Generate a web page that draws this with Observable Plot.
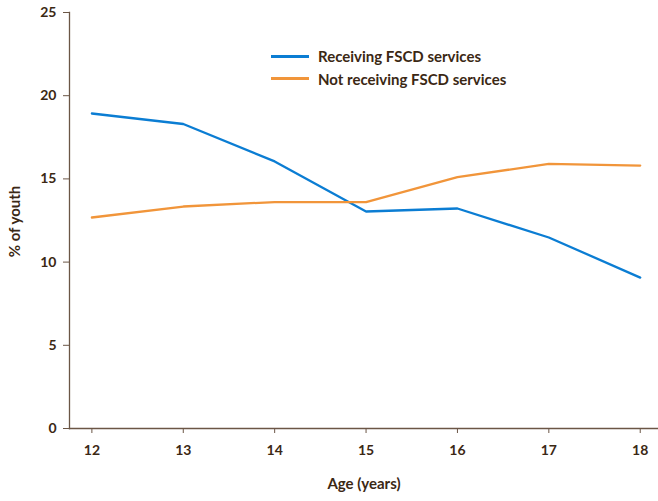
<!DOCTYPE html>
<html>
<head>
<meta charset="utf-8">
<script src="https://cdn.jsdelivr.net/npm/d3@7"></script>
<script src="https://cdn.jsdelivr.net/npm/@observablehq/plot@0.6"></script>
<style>
  body { margin: 0; background: #fff; }
  #wrap { position: relative; width: 658px; height: 501px; font-family: Lato, "Open Sans", sans-serif; }
  .legend { position: absolute; left: 271px; top: 45px; font: bold 15px Lato, sans-serif; color: #3b2814; }
  .legend div { display: flex; align-items: center; height: 22.5px; }
  .legend span.sw { display: inline-block; width: 38px; height: 2.6px; margin-right: 9px; }
</style>
</head>
<body>
<div id="wrap"></div>
<script>
const ages = [12, 13, 14, 15, 16, 17, 18];
const receiving = [18.93, 18.3, 16.05, 13.04, 13.22, 11.48, 9.07];
const notReceiving = [12.68, 13.34, 13.61, 13.6, 15.11, 15.9, 15.8];
const seriesNames = ["Receiving FSCD services", "Not receiving FSCD services"];
const seriesColors = ["#0b7dd3", "#f1953a"];
const yTicks = [0, 5, 10, 15, 20, 25];

const rows = [];
ages.forEach((a, i) => {
  rows.push({age: a, value: receiving[i], series: seriesNames[0]});
  rows.push({age: a, value: notReceiving[i], series: seriesNames[1]});
});

const textColor = "#3b2814";
const axisColor = "#6b5646";

const plot = Plot.plot({
  width: 658,
  height: 501,
  marginLeft: 69,
  marginRight: 0,
  marginTop: 12,
  marginBottom: 73,
  style: {fontFamily: "Lato, sans-serif", fontSize: "14px", fontWeight: "bold", color: textColor, background: "#fff"},
  x: {domain: [11.755, 18.2]},
  y: {domain: [0, 25]},
  color: {domain: seriesNames, range: seriesColors},
  marks: [
    Plot.frame({anchor: "left", stroke: axisColor, strokeWidth: 1.3}),
    Plot.frame({anchor: "bottom", stroke: axisColor, strokeWidth: 1.3}),
    Plot.axisX({ticks: ages, tickFormat: d => String(d), tickSize: 5, tickPadding: 12, stroke: axisColor, fill: textColor, fontSize: 14, fontWeight: "bold", label: null}),
    Plot.axisY({ticks: yTicks, tickFormat: d => String(d), tickSize: 6, tickPadding: 7, stroke: axisColor, fill: textColor, fontSize: 14, fontWeight: "bold", label: null}),
    Plot.line(rows, {x: "age", y: "value", z: "series", stroke: "series", strokeWidth: 2.3}),
    Plot.text(["Age (years)"], {frameAnchor: "bottom", dy: 60, text: d => d, fill: textColor, fontSize: 15, fontWeight: "bold"}),
    Plot.text(["% of youth"], {frameAnchor: "left", textAnchor: "middle", dx: -54, dy: 1, rotate: -90, text: d => d, fill: textColor, fontSize: 15, fontWeight: "bold"})
  ]
});

const wrap = document.getElementById("wrap");
wrap.appendChild(plot);
const lg = document.createElement("div");
lg.className = "legend";
seriesNames.forEach((n, i) => {
  const row = document.createElement("div");
  row.innerHTML = `<span class="sw" style="background:${seriesColors[i]}"></span>${n}`;
  lg.appendChild(row);
});
wrap.appendChild(lg);
</script>
</body>
</html>
